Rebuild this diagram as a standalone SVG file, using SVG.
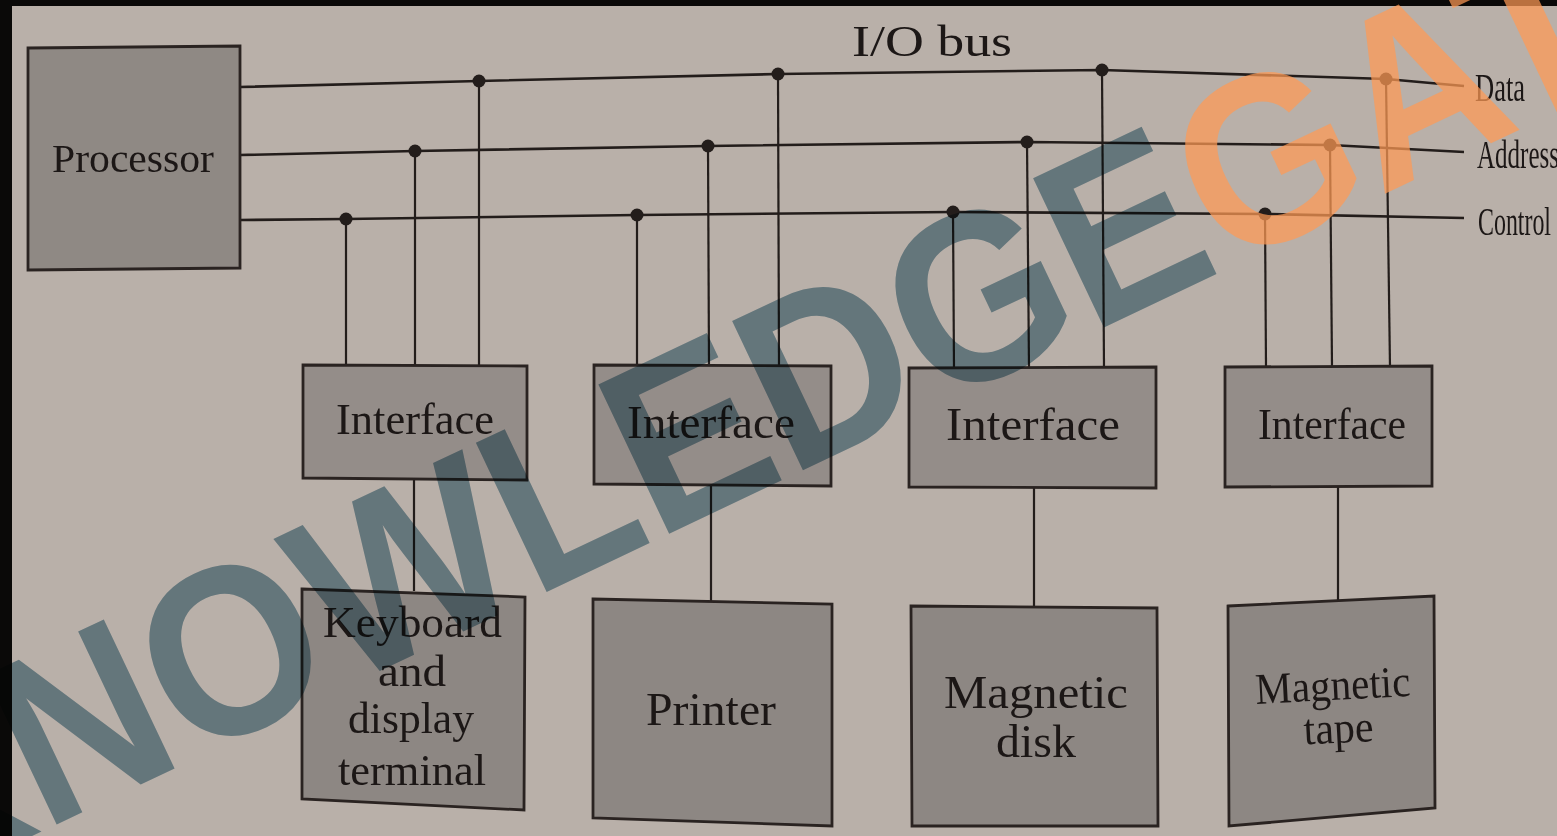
<svg xmlns="http://www.w3.org/2000/svg" width="1557" height="836" viewBox="0 0 1557 836">
<style>
.paper{fill:#b9b0a9}
.box{stroke:#2a2321;stroke-width:2.8;stroke-linejoin:miter}
.proc{fill:#8f8984}
.intf{fill:#948d89}
.dev{fill:#8d8783}
.lbl{font-family:"Liberation Serif","Times New Roman",serif;fill:#1c1716}
.bus{fill:none;stroke:#231d1b;stroke-width:2.6}
.drop{fill:none;stroke:#231d1b;stroke-width:2.2}
.dot{fill:#231d1b}
.wm{font-family:"Liberation Sans",Arial,sans-serif;font-weight:bold;font-size:222px}
.wmgray{fill:#8aabba;mix-blend-mode:multiply}
.wmorange{fill:#ff9a55;fill-opacity:0.72}
</style>
<rect class="paper" x="0" y="0" width="1557" height="836"/>
<rect x="0" y="0" width="1557" height="6" fill="#0a0908"/>
<rect x="0" y="0" width="12" height="836" fill="#0a0908"/>

<text class="lbl" x="852" y="56" font-size="44" textLength="160" lengthAdjust="spacingAndGlyphs">I/O bus</text>

<g id="connectors">
  <polyline class="bus" points="240,87 479,81 778,74 1102,70 1386,79 1464,86"/>
  <polyline class="bus" points="240,155 415,151 708,146 1027,142 1330,145 1464,152"/>
  <polyline class="bus" points="240,220 346,219 637,215 953,212 1265,214 1464,218"/>
  <line class="drop" x1="346" y1="219" x2="346" y2="365"/>
  <line class="drop" x1="415" y1="151" x2="415" y2="365"/>
  <line class="drop" x1="479" y1="81" x2="479" y2="365"/>
  <line class="drop" x1="637" y1="215" x2="637" y2="366"/>
  <line class="drop" x1="708" y1="146" x2="709" y2="366"/>
  <line class="drop" x1="778" y1="74" x2="779" y2="366"/>
  <line class="drop" x1="953" y1="212" x2="954" y2="368"/>
  <line class="drop" x1="1027" y1="142" x2="1029" y2="368"/>
  <line class="drop" x1="1102" y1="70" x2="1104" y2="368"/>
  <line class="drop" x1="1265" y1="214" x2="1266" y2="367"/>
  <line class="drop" x1="1330" y1="145" x2="1332" y2="367"/>
  <line class="drop" x1="1386" y1="79" x2="1390" y2="367"/>
  <line class="drop" x1="414" y1="480" x2="414" y2="591"/>
  <line class="drop" x1="711" y1="486" x2="711" y2="601"/>
  <line class="drop" x1="1034" y1="488" x2="1034" y2="607"/>
  <line class="drop" x1="1338" y1="487" x2="1338" y2="600"/>
  <circle class="dot" cx="479" cy="81" r="6.5"/>
  <circle class="dot" cx="778" cy="74" r="6.5"/>
  <circle class="dot" cx="1102" cy="70" r="6.5"/>
  <circle class="dot" cx="1386" cy="79" r="6.5"/>
  <circle class="dot" cx="415" cy="151" r="6.5"/>
  <circle class="dot" cx="708" cy="146" r="6.5"/>
  <circle class="dot" cx="1027" cy="142" r="6.5"/>
  <circle class="dot" cx="1330" cy="145" r="6.5"/>
  <circle class="dot" cx="346" cy="219" r="6.5"/>
  <circle class="dot" cx="637" cy="215" r="6.5"/>
  <circle class="dot" cx="953" cy="212" r="6.5"/>
  <circle class="dot" cx="1265" cy="214" r="6.5"/>
  <text class="lbl" x="1475" y="101" font-size="40" textLength="50" lengthAdjust="spacingAndGlyphs">Data</text>
  <text class="lbl" x="1477" y="168" font-size="40" textLength="82" lengthAdjust="spacingAndGlyphs">Address</text>
  <text class="lbl" x="1478" y="235" font-size="40" textLength="73" lengthAdjust="spacingAndGlyphs">Control</text>
</g>

<g id="processor">
  <polygon class="box proc" points="28,48 240,46 240,268 28,270"/>
  <text class="lbl" x="52" y="172" font-size="40" textLength="162" lengthAdjust="spacingAndGlyphs">Processor</text>
</g>

<g id="interface1">
  <polygon class="box intf" points="303,365 527,366 527,480 303,478"/>
  <text class="lbl" x="336" y="434" font-size="44" textLength="158" lengthAdjust="spacingAndGlyphs">Interface</text>
</g>
<g id="interface2">
  <polygon class="box intf" points="594,365 831,366 831,486 594,484"/>
  <text class="lbl" x="627" y="438" font-size="46" textLength="168" lengthAdjust="spacingAndGlyphs">Interface</text>
</g>
<g id="interface3">
  <polygon class="box intf" points="909,368 1156,367 1156,488 909,487"/>
  <text class="lbl" x="946" y="440" font-size="47" textLength="174" lengthAdjust="spacingAndGlyphs">Interface</text>
</g>
<g id="interface4">
  <polygon class="box intf" points="1225,367 1432,366 1432,486 1225,487"/>
  <text class="lbl" x="1258" y="439" font-size="44" textLength="148" lengthAdjust="spacingAndGlyphs">Interface</text>
</g>

<g id="keyboard">
  <polygon class="box dev" points="302,589 525,597 524,810 302,799"/>
  <text class="lbl" font-size="45">
    <tspan x="323" y="637" textLength="179" lengthAdjust="spacingAndGlyphs">Keyboard</tspan>
    <tspan x="378" y="686" textLength="68" lengthAdjust="spacingAndGlyphs">and</tspan>
    <tspan x="348" y="733" textLength="126" lengthAdjust="spacingAndGlyphs">display</tspan>
    <tspan x="338" y="785" textLength="148" lengthAdjust="spacingAndGlyphs">terminal</tspan>
  </text>
</g>
<g id="printer">
  <polygon class="box dev" points="593,599 832,604 832,826 593,818"/>
  <text class="lbl" x="646" y="725" font-size="46" textLength="130" lengthAdjust="spacingAndGlyphs">Printer</text>
</g>
<g id="disk">
  <polygon class="box dev" points="911,606 1157,608 1158,826 912,826"/>
  <text class="lbl" font-size="47">
    <tspan x="944" y="708" textLength="184" lengthAdjust="spacingAndGlyphs">Magnetic</tspan>
    <tspan x="996" y="757" textLength="80" lengthAdjust="spacingAndGlyphs">disk</tspan>
  </text>
</g>
<g id="tape">
  <polygon class="box dev" points="1228,606 1434,596 1435,808 1229,826"/>
  <text class="lbl" font-size="44" transform="rotate(-3 1333 700)">
    <tspan x="1256" y="700" textLength="155" lengthAdjust="spacingAndGlyphs">Magnetic</tspan>
    <tspan x="1302" y="743" textLength="70" lengthAdjust="spacingAndGlyphs">tape</tspan>
  </text>
</g>

<g id="watermark" transform="translate(229,647) rotate(-25.4) scale(1,1.08)">
  <text class="wm" x="-407" y="80"><tspan class="wmgray">KNOWLEDGE</tspan><tspan class="wmorange">GATE</tspan></text>
</g>
</svg>
